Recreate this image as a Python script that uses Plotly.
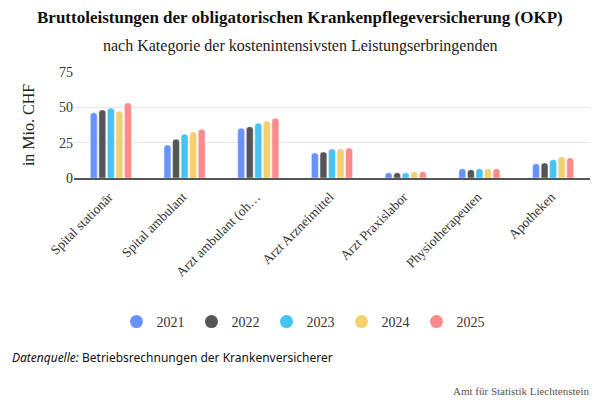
import plotly.graph_objects as go

# Kategorien (Beschriftung im Original abgekürzt)
categories = [
    "Spital stationär",
    "Spital ambulant",
    "Arzt ambulant (oh…",
    "Arzt Arzneimittel",
    "Arzt Praxislabor",
    "Physiotherapeuten",
    "Apotheken",
]
years = ["2021", "2022", "2023", "2024", "2025"]

# Bruttoleistungen in Mio. CHF
v2021 = [46.1, 23.3, 35.2, 17.7, 3.7, 6.5, 10.0]
v2022 = [48.2, 27.5, 36.3, 18.4, 3.7, 5.8, 10.7]
v2023 = [49.4, 31.0, 38.7, 20.5, 3.7, 6.5, 13.0]
v2024 = [47.1, 32.4, 40.1, 20.5, 4.4, 6.5, 14.9]
v2025 = [53.1, 34.5, 42.2, 21.2, 4.4, 6.5, 14.2]

series = [v2021, v2022, v2023, v2024, v2025]
colors = ["#6792FF", "#555555", "#45C3F2", "#F6D06E", "#FF8A8A"]

serif = "Liberation Serif, Times New Roman, serif"
sans = "Noto Sans, Open Sans, sans-serif"

# the page body has an 8px margin, so the figure is 592x392 and
# page coordinates are shifted by 8 px
OFF = 8
W, H = 600 - OFF, 400 - OFF
# plot area on the page: x 74..590, y 72..178
L, R, T, B = 74 - OFF, 600 - 590, 72 - OFF, 400 - 178
PW, PH = W - L - R, H - T - B


def px(x):
    return (x - OFF - L) / PW


def py(y):
    return (H - B - (y - OFF)) / PH


fig = go.Figure()

for year, vals, col in zip(years, series, colors):
    fig.add_trace(go.Bar(
        x=categories, y=vals, name=year,
        marker=dict(color=col, cornerradius=3),
        showlegend=False,
    ))
    # legend entry with round symbol
    fig.add_trace(go.Scatter(
        x=[None], y=[None], mode="markers", name=year,
        marker=dict(color=col, size=13, symbol="circle"),
    ))

fig.update_layout(
    width=W, height=H,
    margin=dict(l=L, r=R, t=T, b=B, autoexpand=False),
    paper_bgcolor="white", plot_bgcolor="white",
    font=dict(family=serif, size=14, color="#333333"),
    barmode="group", bargap=0.42, bargroupgap=0.2,
    showlegend=True,
    legend=dict(
        orientation="h", x=px(304), xanchor="center", y=py(322), yanchor="middle",
        font=dict(family=serif, size=14, color="#333333"),
        entrywidth=30, entrywidthmode="pixels",
    ),
)

fig.update_xaxes(
    type="category", tickangle=-45, automargin=False,
    tickfont=dict(family=serif, size=13.5, color="#333333"),
    ticklabelshift=-2, ticklabelstandoff=4,
    showline=True, linecolor="#555555", linewidth=1.5,
    ticks="",
)
fig.update_yaxes(
    range=[0, 75], tickvals=[0, 25, 50, 75], automargin=False,
    gridcolor="#E6E6E6", zeroline=False,
    tickfont=dict(family=serif, size=14, color="#333333"),
    title=dict(text="in Mio. CHF", font=dict(family=serif, size=16, color="#222222"), standoff=20),
)

fig.add_annotation(
    text="<b>Bruttoleistungen der obligatorischen Krankenpflegeversicherung (OKP)</b>",
    xref="paper", yref="paper", x=px(300), xanchor="center",
    y=py(18), yanchor="middle", showarrow=False,
    font=dict(family=serif, size=17, color="#111111"),
)
fig.add_annotation(
    text="nach Kategorie der kostenintensivsten Leistungserbringenden",
    xref="paper", yref="paper", x=px(300), xanchor="center",
    y=py(46), yanchor="middle", showarrow=False,
    font=dict(family=serif, size=16, color="#222222"),
)
fig.add_annotation(
    text="<i>Datenquelle:</i> Betriebsrechnungen der Krankenversicherer",
    xref="paper", yref="paper", x=px(10), xanchor="left",
    y=py(357), yanchor="middle", showarrow=False,
    font=dict(family=sans, size=12, color="#111111"),
)
fig.add_annotation(
    text="Amt für Statistik Liechtenstein",
    xref="paper", yref="paper", x=px(591), xanchor="right",
    y=py(391), yanchor="middle", showarrow=False,
    font=dict(family=serif, size=11, color="#555555"),
)

fig.write_html("out.html")
